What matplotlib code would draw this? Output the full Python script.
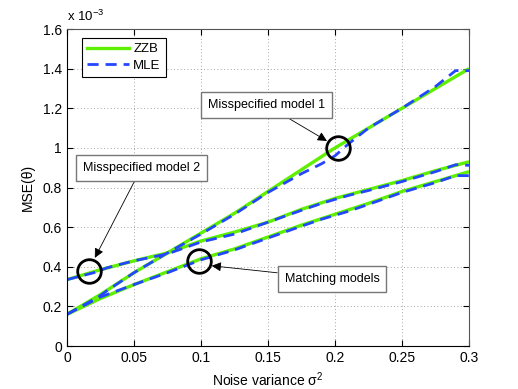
import numpy as np
import matplotlib
matplotlib.use('Agg')
import matplotlib.pyplot as plt
from matplotlib.ticker import FuncFormatter

plt.rcParams['font.family'] = ['Liberation Sans', 'DejaVu Sans']
plt.rcParams['mathtext.fontset'] = 'custom'
plt.rcParams['mathtext.rm'] = 'Liberation Sans'
plt.rcParams['mathtext.it'] = 'Liberation Sans'

# noise variance grid
sigma2 = [0, 0.025, 0.05, 0.075, 0.1, 0.125, 0.15, 0.175, 0.2, 0.225, 0.25, 0.275, 0.3]

# ZZB curves (units of 1e-3)
zzb_mis1 = [0.16, 0.26, 0.37, 0.47, 0.57, 0.67, 0.78, 0.89, 1.0, 1.1, 1.2, 1.3, 1.4]
zzb_mis2 = [0.335, 0.385, 0.43, 0.47, 0.53, 0.575, 0.625, 0.69, 0.745, 0.79, 0.835, 0.885, 0.93]
zzb_match = [0.16, 0.24, 0.31, 0.375, 0.44, 0.49, 0.55, 0.61, 0.665, 0.72, 0.78, 0.83, 0.88]

# MLE curves (units of 1e-3)
mle_x = [0, 0.02, 0.03, 0.05, 0.075, 0.1, 0.125, 0.15, 0.175, 0.19, 0.2, 0.21, 0.225, 0.25, 0.275, 0.29, 0.3]
mle_mis1 = [0.16, 0.23, 0.28, 0.37, 0.47, 0.565, 0.665, 0.775, 0.87, 0.92, 0.96, 1.02, 1.1, 1.2, 1.31, 1.39, 1.39]
mle_mis2 = [0.335, 0.37, 0.395, 0.43, 0.465, 0.525, 0.565, 0.625, 0.685, 0.72, 0.74, 0.76, 0.785, 0.83, 0.88, 0.915, 0.912]
mle_match = [0.16, 0.235, 0.26, 0.31, 0.37, 0.435, 0.485, 0.545, 0.605, 0.64, 0.66, 0.68, 0.715, 0.775, 0.825, 0.86, 0.86]

scale = 1e-3
green = '#5ef000'
blue = '#2446ff'

fig = plt.figure(figsize=(5.18, 3.89), dpi=100)
ax = fig.add_axes([0.1293, 0.1105, 0.7761, 0.8149])

x = np.array(sigma2)
for ys in (zzb_mis1, zzb_mis2, zzb_match):
    ax.plot(x, np.array(ys) * scale, color=green, lw=2.4, solid_capstyle='butt')
mx = np.array(mle_x)
for ys in (mle_mis1, mle_mis2, mle_match):
    ax.plot(mx, np.array(ys) * scale, color=blue, lw=2.0, dashes=(4, 2.5))

# legend proxies
ax.plot([], [], color=green, lw=2.4, label='ZZB')
ax.plot([], [], color=blue, lw=2.0, dashes=(4, 2.5), label='MLE')
handles, labels = ax.get_legend_handles_labels()
leg = ax.legend(handles, labels, loc='upper left', bbox_to_anchor=(0.037, 0.972),
                borderaxespad=0, fontsize=9.5, fancybox=False, framealpha=1, edgecolor='black',
                handlelength=3.2, handletextpad=0.3, borderpad=0.4, labelspacing=0.3)
leg.get_frame().set_linewidth(0.8)

ax.set_xlim(0, 0.3)
ax.set_ylim(0, 1.6e-3)
ax.set_xticks([0, 0.05, 0.1, 0.15, 0.2, 0.25, 0.3])
ax.set_yticks(np.arange(0, 1.61, 0.2) * scale)
ax.xaxis.set_major_formatter(FuncFormatter(lambda v, p: '%g' % round(v, 3)))
ax.yaxis.set_major_formatter(FuncFormatter(lambda v, p: '%g' % round(v / scale, 2)))
ax.tick_params(direction='in', labelsize=10, length=4, top=True, right=True)
ax.grid(True, linestyle=(0, (1, 3)), color='#888888', lw=0.6)
for s in ax.spines.values():
    s.set_color('#555555')
ax.spines['left'].set_color('black')
ax.spines['bottom'].set_color('black')

ax.set_xlabel('Noise variance σ$^2$', fontsize=10, labelpad=4)
ax.set_ylabel('MSE(θ)', fontsize=10, labelpad=6)
ax.text(0.0, 1.015, 'x 10$^{-3}$', transform=ax.transAxes, fontsize=9.5, ha='left', va='bottom')

# circles and callouts
circles = [(0.202, 0.998), (0.0167, 0.379), (0.0985, 0.427)]
for cx, cy in circles:
    ax.plot(cx, cy * scale, 'o', ms=17, mfc='none', mec='black', mew=2)

box = dict(boxstyle='square,pad=0.55', fc='white', ec='#777777', lw=1)
arrow = dict(arrowstyle='-|>', color='black', lw=0.6, mutation_scale=14, shrinkA=0, shrinkB=0)
ax.annotate('Misspecified model 1', xy=(0.194, 1.035e-3), xytext=(0.149, 1.215e-3),
            fontsize=9, ha='center', va='center', bbox=box, arrowprops=arrow)
ax.annotate('Misspecified model 2', xy=(0.0208, 0.445e-3), xytext=(0.0556, 0.9e-3),
            fontsize=9, ha='center', va='center', bbox=box, arrowprops=arrow)
ax.annotate('Matching models', xy=(0.108, 0.405e-3), xytext=(0.1978, 0.34e-3),
            fontsize=9, ha='center', va='center', bbox=box, arrowprops=arrow)

fig.savefig('out.png', dpi=100)
